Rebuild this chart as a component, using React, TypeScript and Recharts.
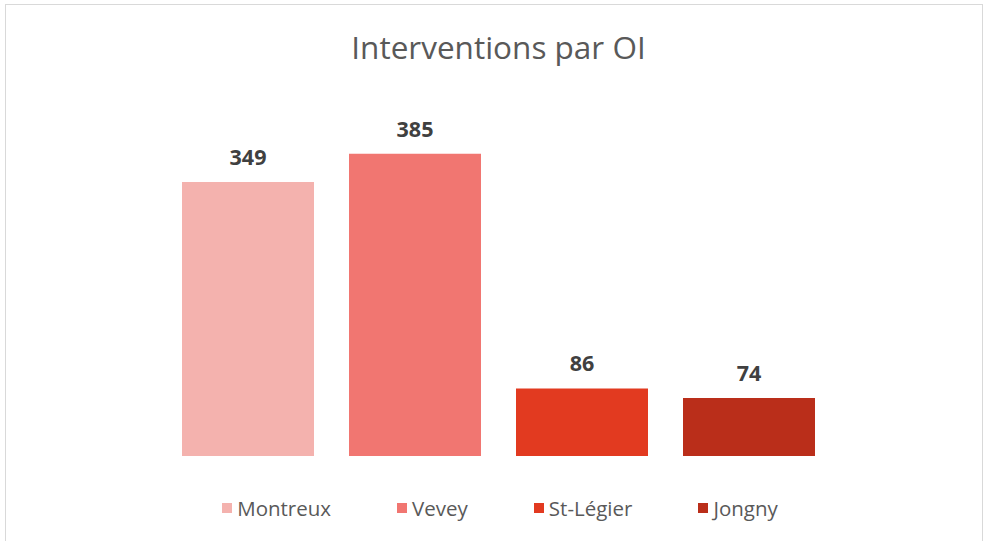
import React from "react";
import { BarChart, Bar, XAxis, YAxis, LabelList, Legend } from "recharts";

const title = "Interventions par OI";
const categories = ["Montreux", "Vevey", "St-Légier", "Jongny"];
const values = [349, 385, 86, 74];
const colors = ["#F4B2AE", "#F17671", "#E23A20", "#BA2E1A"];
const groupLabel = ["OI"];

const row: Record<string, string | number> = { name: groupLabel[0] };
categories.forEach((c, i) => {
  row[c] = values[i];
});
const data = [row];

const FONT = "'Open Sans', sans-serif";

const renderLegend = (props: any) => {
  const payload = [...(props.payload || [])].sort(
    (a: any, b: any) => categories.indexOf(a.value) - categories.indexOf(b.value)
  );
  return (
    <div
      style={{
        display: "flex",
        justifyContent: "center",
        gap: 66,
        fontFamily: FONT,
        fontSize: 20.5,
        color: "#595959",
        paddingLeft: 8,
      }}
    >
      {payload.map((p: any) => (
        <div key={p.value} style={{ display: "flex", alignItems: "center" }}>
          <span
            style={{
              display: "inline-block",
              width: 10,
              height: 10,
              background: p.color,
              marginRight: 5,
            }}
          />
          <span>{p.value}</span>
        </div>
      ))}
    </div>
  );
};

export default function App() {
  return (
    <div
      style={{
        position: "absolute",
        left: 0,
        top: 0,
        width: 992,
        height: 541,
        overflow: "hidden",
        background: "#ffffff",
      }}
    >
      <div
        style={{
          position: "absolute",
          left: 5,
          top: 4,
          width: 978,
          height: 600,
          border: "1px solid #D9D9D9",
          boxSizing: "border-box",
        }}
      />
      <div
        style={{
          position: "absolute",
          left: 0,
          top: 31,
          width: 997,
          textAlign: "center",
          fontFamily: FONT,
          fontSize: 31.5,
          lineHeight: 1,
          color: "#595959",
        }}
      >
        {title}
      </div>
      <div style={{ position: "absolute", left: 0, top: 0 }}>
        <BarChart
          width={992}
          height={541}
          data={data}
          margin={{ top: 142, right: 161, bottom: 85, left: 164 }}
          barCategoryGap={18}
          barGap={35}
        >
          <XAxis dataKey="name" hide />
          <YAxis hide domain={[0, 400]} />
          <Legend
            verticalAlign="middle"
            align="center"
            layout="horizontal"
            content={renderLegend}
            wrapperStyle={{ top: 494, left: 0, width: 992 }}
          />
          {categories.map((c, i) => (
            <Bar
              key={c}
              dataKey={c}
              fill={colors[i]}
              isAnimationActive={false}
            >
              <LabelList
                dataKey={c}
                position="top"
                offset={17}
                style={{
                  fontFamily: FONT,
                  fontSize: 21.5,
                  fontWeight: 700,
                  fill: "#404040",
                }}
              />
            </Bar>
          ))}
        </BarChart>
      </div>
    </div>
  );
}
